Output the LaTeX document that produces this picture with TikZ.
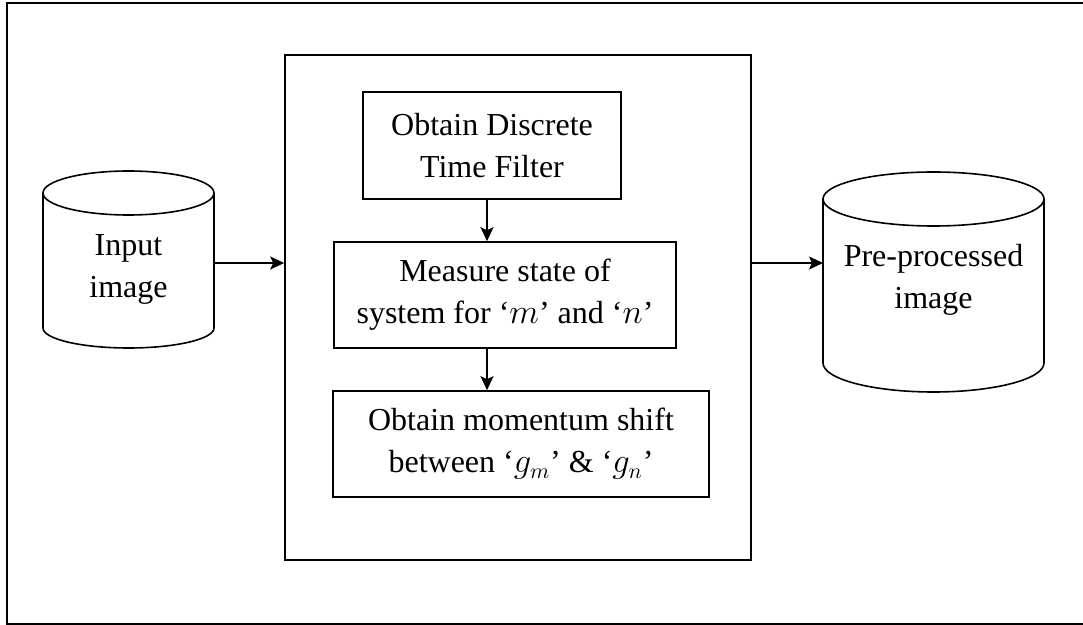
\documentclass[tikz,border=0pt]{standalone}
\usepackage{fontspec}
\setmainfont{Liberation Serif}
\usetikzlibrary{arrows.meta,calc}

\tikzset{
  blk/.style={draw, line width=0.8pt, align=center, inner sep=2pt,
    font=\fontsize{16}{21}\selectfont},
  txt/.style={align=center, inner sep=0pt, font=\fontsize{16}{21}\selectfont},
  cyl/.style={line width=0.8pt},
  arr/.style={line width=0.8pt, -{Stealth[length=7pt,width=6.5pt,inset=1.5pt]}}
}

\begin{document}
\begin{tikzpicture}[x=0.5pt, y=-0.5pt]
    \useasboundingbox (0,0) rectangle (1083,625);
    \draw [line width=0.9pt] (1090,3)--(7,3)--(7,624)--(1090,624);
    \node [draw, line width=0.8pt, minimum width=233pt, minimum height=252.5pt] (frame) at (518,307.5) {};
    \node [blk, minimum width=129pt, minimum height=53.5pt] (b1) at (492,145.5) {Obtain Discrete\\Time Filter};
    \node [blk, minimum width=171pt, minimum height=53pt] (b2) at (505,295) {Measure state of\\system for `$m$' and `$n$'};
    \node [blk, minimum width=188pt, minimum height=53pt] (b3) at (521,444) {Obtain momentum shift\\between `$g_m$' \& `$g_n$'};
    % input image
    \draw [cyl] (43,193) -- (43,328) arc[x radius=85.5, y radius=20, start angle=180, end angle=0] -- (214,193);
    \draw [cyl] (128.5,193) ellipse[x radius=85.5, y radius=22];
    \node [txt] (cin) at (128.5,269) {Input\\image};
    \coordinate (cinr) at (214,263);
    % pre-processed image
    \draw [cyl] (823,199) -- (823,363) arc[x radius=110.5, y radius=29, start angle=180, end angle=0] -- (1044,199);
    \draw [cyl] (933.5,199) ellipse[x radius=110.5, y radius=27];
    \node [txt] (cout) at (933.5,280) {Pre-processed\\image};
    \coordinate (coutl) at (823,263);
    \coordinate (ax) at (487,0);
    \draw [arr] (b1.south -| ax) -- (b2.north -| ax);
    \draw [arr] (b2.south -| ax) -- (b3.north -| ax);
    \draw [arr] (cinr) -- (frame.west |- cinr);
    \draw [arr] (frame.east |- coutl) -- (coutl);
\end{tikzpicture}
\end{document}
